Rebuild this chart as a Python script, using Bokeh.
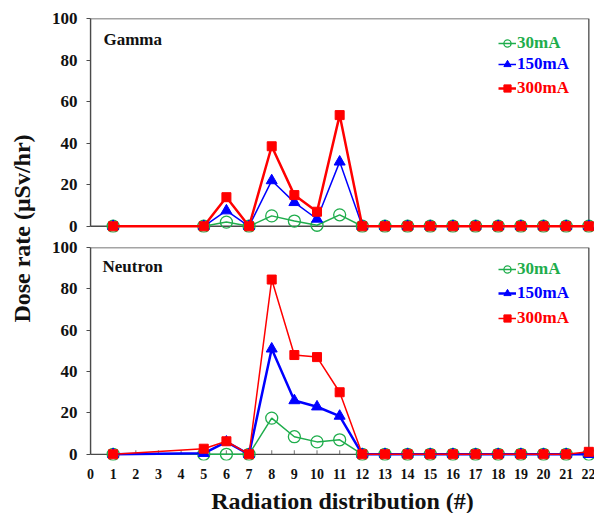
import math
from bokeh.plotting import figure
from bokeh.models import (BoxAnnotation, Label, Legend, LegendItem, FixedTicker,
                          Range1d, ColumnDataSource)
from bokeh.layouts import row, column
from bokeh.embed import file_html
from bokeh.resources import INLINE

# ---------------- data ----------------
positions = [1, 5, 6, 7, 8, 9, 10, 11, 12, 13, 14, 15, 16, 17, 18, 19, 20, 21, 22]

gamma_30mA  = [0, 0, 2.0, 0, 5.0, 2.5, 0.5, 5.5, 0, 0, 0, 0, 0, 0, 0, 0, 0, 0, 0]
gamma_150mA = [0, 0, 7.5, 0, 22.0, 11.5, 3.5, 31.0, 0, 0, 0, 0, 0, 0, 0, 0, 0, 0, 0]
gamma_300mA = [0, 0, 14.0, 0, 38.5, 15.0, 7.0, 53.5, 0, 0, 0, 0, 0, 0, 0, 0, 0, 0, 0]

neutron_30mA  = [0, 0, 0, 0, 17.5, 8.5, 6.0, 7.0, 0, 0, 0, 0, 0, 0, 0, 0, 0, 0, 0]
neutron_150mA = [0, 0.5, 6.0, 0, 51.0, 26.0, 23.0, 18.5, 0, 0, 0, 0, 0, 0, 0, 0, 0, 0, 0]
neutron_300mA = [0, 2.7, 6.3, 0, 84.5, 48.0, 47.0, 30.0, 0, 0, 0, 0, 0, 0, 0, 0, 0, 0, 1.2]

x_ticks = list(range(0, 23))
y_ticks = [0, 20, 40, 60, 80, 100]
series_labels = ["30mA", "150mA", "300mA"]
panel_titles = ["Gamma", "Neutron"]
x_title = "Radiation distribution (#)"
y_title = "Dose rate (\u03bcSv/hr)"

GREEN = "#1fad4c"
BLUE = "#0000ff"
RED = "#ff0000"
SERIF = "Liberation Serif"
TEXT = "#111111"


def make_panel(values, widths, legend_bottoms, show_x, frame_h, top_border, bottom_border):
    p = figure(frame_width=504, frame_height=frame_h,
               x_range=Range1d(0, 22.25), y_range=Range1d(-3, 100),
               min_border_left=41, min_border_right=1,
               min_border_top=top_border, min_border_bottom=bottom_border,
               toolbar_location=None, output_backend="svg",
               x_axis_location="below" if show_x else None)
    p.outline_line_color = None
    p.xgrid.visible = False
    p.ygrid.visible = False
    p.background_fill_color = "white"
    p.border_fill_color = "white"

    box = BoxAnnotation(left=0, right=22, bottom=0, top=100,
                        fill_alpha=0, fill_color=None,
                        line_color="#4a4a4a", line_alpha=1.0, line_width=1.3,
                        level="underlay")
    p.add_layout(box)

    # y axis
    ya = p.yaxis[0]
    ya.ticker = FixedTicker(ticks=y_ticks)
    ya.bounds = (0, 100)
    ya.axis_line_color = "#4a4a4a"
    ya.axis_line_width = 1.3
    ya.major_tick_out = 4
    ya.major_tick_in = 0
    ya.minor_tick_line_color = None
    ya.major_tick_line_color = "#4a4a4a"
    ya.major_label_standoff = 9
    ya.major_label_text_font = SERIF
    ya.major_label_text_font_style = "bold"
    ya.major_label_text_font_size = "17px"
    ya.major_label_text_color = TEXT

    if show_x:
        xa = p.xaxis[0]
        xa.ticker = FixedTicker(ticks=x_ticks)
        xa.axis_line_color = None
        xa.major_tick_line_color = None
        xa.minor_tick_line_color = None
        xa.major_label_standoff = 2
        xa.major_label_text_font = SERIF
        xa.major_label_text_font_style = "bold"
        xa.major_label_text_font_size = "14px"
        xa.major_label_text_color = TEXT
        xa.axis_label = x_title
        xa.axis_label_standoff = 6
        xa.axis_label_text_font = SERIF
        xa.axis_label_text_font_style = "bold"
        xa.axis_label_text_font_size = "24px"
        xa.axis_label_text_color = TEXT
        # inward tick marks along the zero line
        p.segment(x0=x_ticks, y0=[0] * len(x_ticks), x1=x_ticks, y1=[2] * len(x_ticks),
                  line_color="#8a8a8a", line_width=1.2, level="underlay")

    src = ColumnDataSource(dict(x=positions, a=values[0], b=values[1], c=values[2]))
    l1 = p.line("x", "a", source=src, color=GREEN, line_width=widths[0])
    s1 = p.scatter("x", "a", source=src, marker="circle", size=12, fill_color=None,
                   line_color=GREEN, line_width=1.3)
    l2 = p.line("x", "b", source=src, color=BLUE, line_width=widths[1])
    s2 = p.scatter("x", "b", source=src, marker="triangle", size=11, fill_color=BLUE,
                   line_color=BLUE)
    l3 = p.line("x", "c", source=src, color=RED, line_width=widths[2])
    s3 = p.scatter("x", "c", source=src, marker="square", size=9, fill_color=RED,
                   line_color=RED)

    rends = [(l1, s1), (l2, s2), (l3, s3)]
    colors = [GREEN, BLUE, RED]
    for (lr, sr), lab, col, vb in zip(rends, series_labels, colors, legend_bottoms):
        leg = Legend(items=[LegendItem(label=lab, renderers=[lr, sr])],
                     location=(408, vb), label_text_color=col,
                     label_text_font=SERIF, label_text_font_style="bold",
                     label_text_font_size="17px", background_fill_alpha=0,
                     border_line_color=None, padding=0, margin=0, spacing=0,
                     glyph_width=18, glyph_height=20, label_height=20,
                     label_standoff=1)
        p.add_layout(leg)

    return p


top = make_panel([gamma_30mA, gamma_150mA, gamma_300mA],
                 [1.5, 1.5, 2.5], [179, 158, 134], False, 214, 18, 4)
top.add_layout(Label(x=0.57, y=89.9, text=panel_titles[0], text_font=SERIF,
                     text_font_style="bold", text_font_size="17px",
                     text_baseline="middle", text_color=TEXT))

bot = make_panel([neutron_30mA, neutron_150mA, neutron_300mA],
                 [1.5, 2.5, 1.5], [181, 157, 132], True, 213, 11, 53)
bot.add_layout(Label(x=0.53, y=90.8, text=panel_titles[1], text_font=SERIF,
                     text_font_style="bold", text_font_size="17px",
                     text_baseline="middle", text_color=TEXT))

side = figure(width=48, height=513, x_range=Range1d(0, 48), y_range=Range1d(0, 513),
              min_border=0, toolbar_location=None, output_backend="svg",
              x_axis_location=None, y_axis_location=None)
side.outline_line_color = None
side.xgrid.visible = False
side.ygrid.visible = False
side.add_layout(Label(x=21, y=285, text=y_title, angle=math.pi / 2, text_font=SERIF,
                      text_font_style="bold", text_font_size="24px",
                      text_align="center", text_baseline="middle",
                      text_color=TEXT))

layout = row(side, column(top, bot))

open("out.html", "w").write(file_html(layout, INLINE))
